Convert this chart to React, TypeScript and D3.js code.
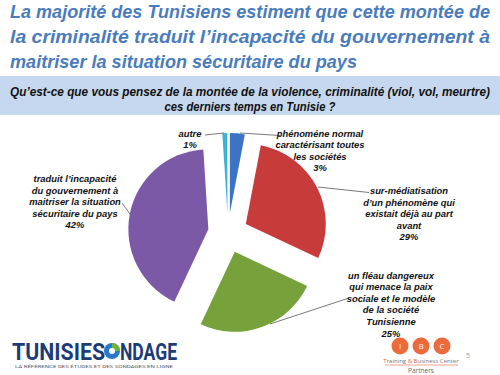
import React, { useLayoutEffect, useRef, useState } from "react";
import * as d3 from "d3";

const categories = [
  "phénoméne normal caractérisant toutes les sociétés",
  "sur-médiatisation d'un phénomène qui existait déjà au part avant",
  "un fléau dangereux qui menace la paix sociale et le modèle de la société Tunisienne",
  "traduit l'incapacité du gouvernement à maitriser la situation sécuritaire du pays",
  "autre",
];
const values = [3, 29, 25, 42, 1];
const colors = ["#3d73c4", "#c73b3b", "#77a13b", "#7b59a7", "#3fb2d3"];
const labelLines = [
  ["phénoméne normal", "caractérisant toutes", "les sociétés", "3%"],
  ["sur-médiatisation", "d’un phénomène qui", "existait déjà au part", "avant", "29%"],
  ["un fléau dangereux", "qui menace la paix", "sociale et le modèle", "de la société", "Tunisienne", "25%"],
  ["traduit l’incapacité", "du gouvernement à", "maitriser la situation", "sécuritaire du pays", "42%"],
  ["autre", "1%"],
];
// label anchor (center x, first baseline y) and leader line [from, to]
const labelPos = [
  { x: 320, y: 136.5, line: [[280, 135.5], [240, 133]] },
  { x: 409, y: 194, line: [[369, 192.5], [318, 187]] },
  { x: 391, y: 278.5, line: [[349, 298], [270, 324]] },
  { x: 75, y: 182, line: [[122, 203], [130, 214]] },
  { x: 190, y: 136.5, line: [[205, 135], [224, 133]] },
];
const titleLines = [
  "La majorité des Tunisiens estiment que cette montée de",
  "la criminalité traduit l’incapacité du gouvernement à",
  "maitriser la situation sécuritaire du pays",
];
const questionLines = [
  "Qu’est-ce que vous pensez de la montée de la violence, criminalité (viol, vol, meurtre)",
  "ces derniers temps en Tunisie ?",
];
const questionWidths = [480, 171];

export default function App() {
  const W = 500, H = 375;
  const cx = 228, cy = 233, R = 80, explode = 20;
  const pie = d3.pie<number>().sort(null).startAngle(0).endAngle(2 * Math.PI)(values);
  const arc = d3.arc<d3.PieArcDatum<number>>().innerRadius(0).outerRadius(R);
  const font = "'Liberation Sans', Arial, sans-serif";
  const lh = 11.6;

  const qRefs = useRef<(SVGTextElement | null)[]>([]);
  const [qScale, setQScale] = useState<number[]>([0.82, 0.9]);
  useLayoutEffect(() => {
    const s = qRefs.current.map((el, i) => {
      if (!el) return 1;
      const len = el.getComputedTextLength();
      return len > 0 ? questionWidths[i] / len : 1;
    });
    setQScale(s);
  }, []);

  return (
    <svg width={W} height={H} viewBox={`0 0 ${W} ${H}`}
      style={{ position: "absolute", left: 0, top: 0, background: "#fff" }}
      fontFamily={font}>
      <rect x={0} y={0} width={W} height={H} fill="#fff" />
      {/* title */}
      {titleLines.map((t, i) => (
        <text key={i} x={10} y={18 + i * 25} fontSize={17.5} fontWeight={700} fontStyle="italic"
          fill="#4a7cbc" textLength={i < 2 ? 480 : 347} lengthAdjust="spacingAndGlyphs">{t}</text>
      ))}
      {/* question banner */}
      <rect x={0} y={76} width={W} height={39} fill="#c6d8ef" />
      {questionLines.map((t, i) => (
        <text key={i} ref={(el) => { qRefs.current[i] = el; }}
          transform={`translate(250,${96 + i * 14.5}) scale(${qScale[i]},1)`}
          x={0} y={0} fontSize={12.5} fontWeight={700} fontStyle="italic"
          fill="#111" textAnchor="middle">{t}</text>
      ))}
      {/* pie */}
      <g transform={`translate(${cx},${cy})`}>
        {pie.map((d, i) => {
          const a = (d.startAngle + d.endAngle) / 2;
          const dx = Math.sin(a) * explode, dy = -Math.cos(a) * explode;
          return (
            <path key={i} d={arc(d) || ""} fill={colors[i]} transform={`translate(${dx},${dy})`} />
          );
        })}
      </g>
      {/* labels */}
      {labelPos.map((p, i) => (
        <g key={i}>
          <polyline points={p.line.map((q) => q.join(",")).join(" ")} fill="none" stroke="#555" strokeWidth={0.8} />
          {labelLines[i].map((t, j) => (
            <text key={j} x={p.x} y={p.y + j * lh} fontSize={9.4} fontWeight={700} fontStyle="italic"
              fill="#111" textAnchor="middle">{t}</text>
          ))}
        </g>
      ))}
      {/* TunisieSondage logo */}
      <g>
        <text x={12} y={360} fontFamily="Roboto, sans-serif" fontSize={24} fontWeight={700}
          fill="#1c3c78" textLength={93} lengthAdjust="spacingAndGlyphs">TUNISIES</text>
        <circle cx={112} cy={351} r={8} fill="#2b78c8" />
        <path d="M112,343 A8,8 0 0 1 120,351 L112,351 Z" fill="#6fb33a" />
        <circle cx={112} cy={351} r={3} fill="#fff" />
        <text x={120} y={360} fontFamily="Roboto, sans-serif" fontSize={24} fontWeight={700}
          fill="#1c3c78" textLength={57} lengthAdjust="spacingAndGlyphs">NDAGE</text>
        <text x={15} y={367.5} fontFamily="Roboto, sans-serif" fontSize={2.8} fill="#555"
          textLength={158} lengthAdjust="spacingAndGlyphs">LA RÉFÉRENCE DES ÉTUDES ET DES SONDAGES EN LIGNE</text>
      </g>
      {/* IBC logo */}
      <g>
        {["I", "B", "C"].map((l, i) => (
          <g key={l}>
            <circle cx={400 + i * 21} cy={346} r={8.5} fill="#ec6a3c" />
            <text x={400 + i * 21} y={349} fontSize={8} fill="#fff" textAnchor="middle"
              fontFamily="'Open Sans', sans-serif">{l}</text>
          </g>
        ))}
        <text x={421} y={363} fontSize={6} fill="#777" textAnchor="middle"
          fontFamily="'Open Sans', sans-serif">
          <tspan fill="#e8643a">T</tspan>raining <tspan fill="#e8643a">&amp;</tspan> <tspan fill="#e8643a">B</tspan>usiness <tspan fill="#e8643a">C</tspan>enter
        </text>
        <line x1={385} x2={458} y1={365} y2={365} stroke="#e8643a" strokeWidth={0.6} />
        <text x={421} y={372.5} fontSize={6.5} fill="#666" textAnchor="middle"
          fontFamily="'Open Sans', sans-serif">Partners</text>
        <text x={468} y={358} fontSize={7} fill="#999" textAnchor="middle"
          fontFamily="'Open Sans', sans-serif">5</text>
      </g>
    </svg>
  );
}
